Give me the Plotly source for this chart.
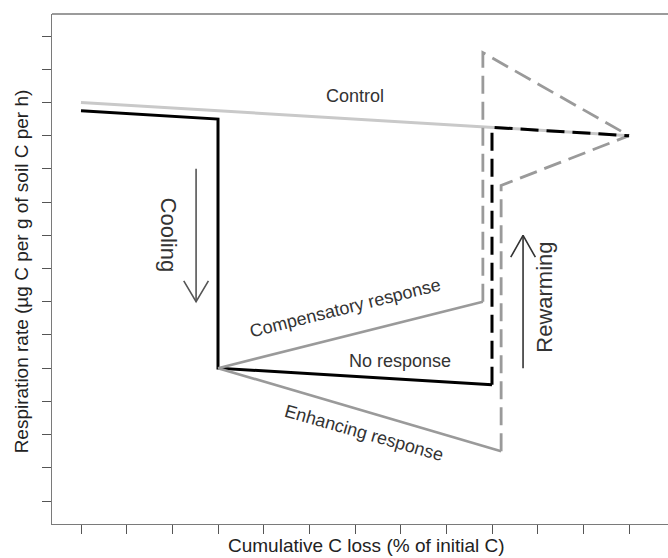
import plotly.graph_objects as go

# Conceptual respiration trajectories (arbitrary units)
control_x = [0, 12]
control_y = [12, 11]

cooled_x = [0, 3, 3, 9]
cooled_y = [11.75, 11.5, 4, 3.5]
rewarm_none_x = [9, 9, 12]
rewarm_none_y = [3.5, 11.25, 11]

comp_x = [3, 8.8]
comp_y = [4, 6]
rewarm_comp_x = [8.8, 8.8, 12]
rewarm_comp_y = [6, 13.5, 11]

enh_x = [3, 9.2]
enh_y = [4, 1.5]
rewarm_enh_x = [9.2, 9.2, 12]
rewarm_enh_y = [1.5, 9.5, 11]

x_ticks = list(range(0, 13))
y_ticks = list(range(0, 15))

# Process arrows: (x, y_start, y_end)
cool_arrow = (2.52, 10.0, 6.0)
warm_arrow = (9.68, 4.0, 8.0)

FONT = "Liberation Sans, Arial, sans-serif"
GRAY_LIGHT = "#c9c9c9"
GRAY = "#9a9a9a"
AXIS = "#7a7a7a"

fig = go.Figure()


def line(x, y, color, width=3, dash="solid"):
    fig.add_trace(go.Scatter(x=x, y=y, mode="lines", hoverinfo="skip",
                             line=dict(color=color, width=width, dash=dash)))


line(control_x, control_y, GRAY_LIGHT, 3)
line(cooled_x, cooled_y, "#000000", 3)
line(comp_x, comp_y, GRAY, 2.6)
line(enh_x, enh_y, GRAY, 2.6)
line(rewarm_comp_x, rewarm_comp_y, GRAY, 2.8, "18px,8px")
line(rewarm_enh_x, rewarm_enh_y, GRAY, 2.8, "18px,8px")
line(rewarm_none_x, rewarm_none_y, "#000000", 3, "18px,8px")


def arrow(spec, color):
    x, y0, y1 = spec
    head = 0.63 if y1 < y0 else -0.66
    wing = 0.27
    fig.add_trace(go.Scatter(
        x=[x, x, None, x - wing, x, x + wing],
        y=[y0, y1, None, y1 + head, y1, y1 + head],
        mode="lines", hoverinfo="skip",
        line=dict(color=color, width=1.6)))


arrow(cool_arrow, "#555555")
arrow(warm_arrow, "#333333")

labels = [
    dict(x=6.0, y=12.18, text="Control", textangle=0, size=18),
    dict(x=5.78, y=5.82, text="Compensatory response", textangle=-14, size=18),
    dict(x=6.98, y=4.22, text="No response", textangle=0, size=18),
    dict(x=6.2, y=2.05, text="Enhancing response", textangle=16, size=18),
    dict(x=1.92, y=8.0, text="Cooling", textangle=90, size=22),
    dict(x=10.16, y=6.15, text="Rewarming", textangle=-90, size=22),
]
for lb in labels:
    fig.add_annotation(x=lb["x"], y=lb["y"], text=lb["text"], showarrow=False,
                       textangle=lb["textangle"], xanchor="center", yanchor="middle",
                       font=dict(family=FONT, size=lb["size"], color="#333333"))

# Axis titles
fig.add_annotation(xref="paper", yref="paper", x=0.51, y=-0.0667,
                   text="Cumulative C loss (% of initial C)", showarrow=False,
                   xanchor="center", yanchor="bottom",
                   font=dict(family=FONT, size=19, color="#222222"))
fig.add_annotation(xref="paper", yref="paper", x=-0.049, y=0.495,
                   text="Respiration rate (µg C per g of soil C per h)", showarrow=False,
                   textangle=-90, xanchor="center", yanchor="middle",
                   font=dict(family=FONT, size=19, color="#222222"))

# Top frame line
fig.add_shape(type="line", xref="paper", yref="paper", x0=0, x1=1, y0=1, y1=1,
              line=dict(color=AXIS, width=1.3))

fig.update_layout(
    width=668, height=558,
    margin=dict(l=52, r=0, t=14, b=34),
    plot_bgcolor="white", paper_bgcolor="white",
    showlegend=False,
    xaxis=dict(range=[-0.635, 12.854], tickvals=x_ticks, showticklabels=False,
               ticks="outside", ticklen=9, tickcolor="#555555", tickwidth=1.2,
               showline=True, linecolor=AXIS, linewidth=1.3,
               showgrid=False, zeroline=False, fixedrange=True),
    yaxis=dict(range=[-0.6925, 14.663], tickvals=y_ticks, showticklabels=False,
               ticks="outside", ticklen=9, tickcolor="#555555", tickwidth=1.2,
               showline=True, linecolor=AXIS, linewidth=1.3,
               showgrid=False, zeroline=False, fixedrange=True),
)

fig.write_html("out.html")
